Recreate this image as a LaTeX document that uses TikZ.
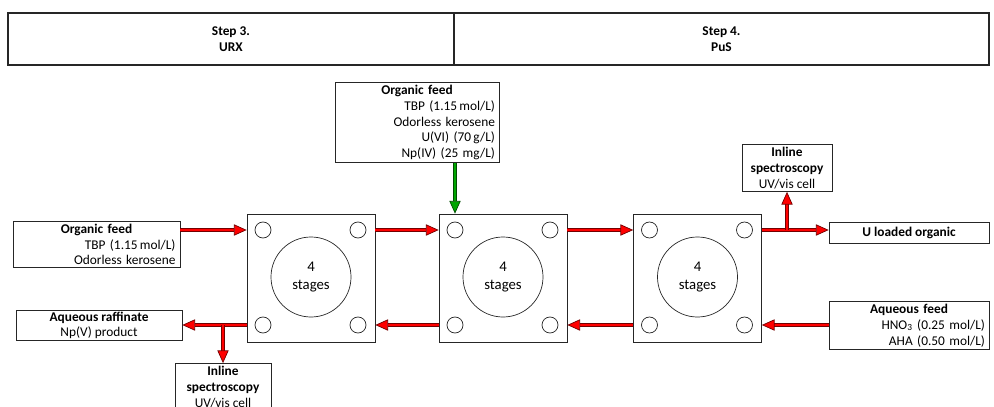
\documentclass[tikz,border=0pt]{standalone}
\usepackage{fontspec}
\setmainfont{Carlito}
\usetikzlibrary{arrows.meta,calc}

\begin{document}
\begin{tikzpicture}[
    x=0.025cm, y=-0.025cm,
    font=\fontsize{9.5}{11.2}\selectfont,
    hdr/.style={draw=black!85,line width=0.9pt,minimum height=1.3cm,font=\fontsize{9.5}{11.2}\selectfont\bfseries,align=center},
    feedbox/.style={draw=black!85,line width=0.5pt,inner sep=2pt},
    specbox/.style={feedbox,align=center},
    mixer/.style={draw=black!85,line width=0.5pt,minimum size=3.2cm},
    port/.style={draw=black!85,line width=0.5pt,circle,minimum size=0.4cm,inner sep=0pt},
    stagebox/.style={draw=black!85,line width=0.5pt,circle,minimum size=2cm,font=\fontsize{10.5}{12.8}\selectfont,align=center},
    flow/.style={draw=red!45!black,line width=0.5pt,double=red,double distance=1.6pt,
        -{Triangle[length=9pt,width=8pt,line width=0.5pt,fill=red]}},
    orgflow/.style={draw=green!30!black,line width=0.5pt,double=green!65!black,double distance=1.6pt,
        -{Triangle[length=9pt,width=8pt,line width=0.5pt,fill=green!65!black]}},
]
\useasboundingbox (0,0) rectangle (994,407);

% Step headers
\node[hdr,minimum width=11.15cm]  (step3) at (231,39)   {Step 3.\\URX};
\node[hdr,minimum width=13.375cm] (step4) at (721.5,39) {Step 4.\\PuS};

% Feeds and products
\node[feedbox,text width=3.9cm,minimum width=4.1cm,align=right] (orgtop) at (417,122.5)
  {\makebox[3.9cm]{\bfseries Organic feed}\\TBP (1.15\,mol/L)\\Odorless kerosene\\U(VI) (70\,g/L)\\Np(IV) (25 mg/L)};
\node[feedbox,text width=3.95cm,minimum width=4.175cm,align=right] (orgleft) at (96.5,244.5)
  {\makebox[3.95cm]{\bfseries Organic feed}\\TBP (1.15\,mol/L)\\Odorless kerosene};
\node[feedbox,minimum width=4.15cm,align=center,inner ysep=1pt] (raff) at (99,325.5)
  {\textbf{Aqueous raffinate}\\Np(V) product};
\node[feedbox,minimum width=4cm,minimum height=0.525cm,font=\fontsize{9.5}{11.2}\selectfont\bfseries] (uorg) at (909,232.5)
  {U loaded organic};
\node[feedbox,text width=3.8cm,minimum width=4cm,align=right] (aqfeed) at (909,325.5)
  {\makebox[3.8cm]{\bfseries Aqueous feed}\\HNO\textsubscript{3} (0.25 mol/L)\\AHA (0.50 mol/L)};
\node[specbox,minimum width=2.25cm] (specup)   at (787,168) {\textbf{Inline}\\\textbf{spectroscopy}\\UV/vis cell};
\node[specbox,minimum width=2.4cm]  (specdown) at (223,387) {\textbf{Inline}\\\textbf{spectroscopy}\\UV/vis cell};

% Mixer-settler banks
\node[mixer] (ms1) at (311,278) {};
\node[stagebox] (st1) at (311,277) {4\\stages};
\node[port] (ms1tl) at (263,230) {};
\node[port] (ms1tr) at (358,230) {};
\node[port] (ms1bl) at (263,325) {};
\node[port] (ms1br) at (358,325) {};

\node[mixer] (ms2) at (503,278) {};
\node[stagebox] (st2) at (503,277) {4\\stages};
\node[port] (ms2tl) at (455,230) {};
\node[port] (ms2tr) at (550,230) {};
\node[port] (ms2bl) at (455,325) {};
\node[port] (ms2br) at (550,325) {};

\node[mixer] (ms3) at (697.5,278) {};
\node[stagebox] (st3) at (697.5,277) {4\\stages};
\node[port] (ms3tl) at (649.5,230) {};
\node[port] (ms3tr) at (744.5,230) {};
\node[port] (ms3bl) at (649.5,325) {};
\node[port] (ms3br) at (744.5,325) {};

% Organic phase, left to right
\draw[flow] (orgleft.east |- ms1tl) -- (ms1tl -| ms1.west);
\draw[flow] (ms1tr -| ms1.east) -- (ms2tl -| ms2.west);
\draw[flow] (ms2tr -| ms2.east) -- (ms3tl -| ms3.west);
\draw[flow] (ms3tr -| ms3.east) -- (ms3tr -| uorg.west);
\draw[flow] (specup.south |- ms3tr) -- (specup.south);
\draw[orgflow] (orgtop.south -| ms2tl) -- (ms2tl |- ms2.north);

% Aqueous phase, right to left
\draw[flow] (aqfeed.west |- ms3br) -- (ms3br -| ms3.east);
\draw[flow] (ms3bl -| ms3.west) -- (ms2br -| ms2.east);
\draw[flow] (ms2bl -| ms2.west) -- (ms1br -| ms1.east);
\draw[flow] (ms1bl -| ms1.west) -- (ms1bl -| raff.east);
\draw[flow] (specdown.north |- ms1bl) -- (specdown.north);
\end{tikzpicture}
\end{document}
